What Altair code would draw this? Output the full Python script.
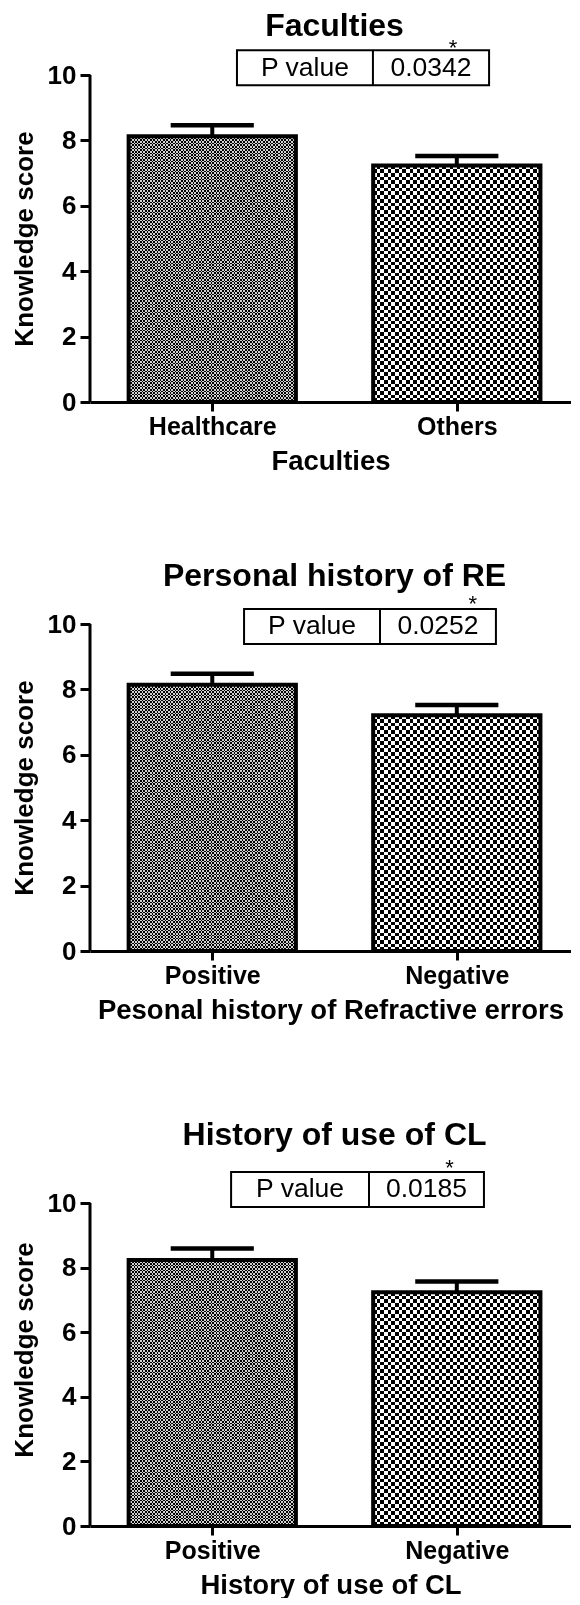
import altair as alt
import pandas as pd

# ---------------- data ----------------
panel_titles = ["Faculties", "Personal history of RE", "History of use of CL"]
axis_titles = ["Faculties", "Pesonal history of Refractive  errors", "History of use of CL"]
categories = [["Healthcare", "Others"], ["Positive", "Negative"], ["Positive", "Negative"]]
means = [[8.13, 7.23], [8.14, 7.21], [8.24, 7.24]]
sems = [[0.33, 0.29], [0.34, 0.31], [0.35, 0.33]]
p_values = ["0.0342", "0.0252", "0.0185"]
stars = ["*", "*", "*"]
y_title = "Knowledge score"
p_label = "P value"
y_ticks = [0, 2, 4, 6, 8, 10]

# ---------------- layout / style ----------------
PX_PER_X = 244.5          # pixels per category slot
X_MAX = 1.967             # right end of the x axis (in category slots)
PLOT_W = round(PX_PER_X * X_MAX)
heights = [327, 327, 353]
y_tops = [10, 10, 10.93]
table_x = [(0.601, 1.157, 1.632), (0.63, 1.186, 1.66), (0.577, 1.141, 1.611)]
table_y = [(9.69, 10.76), (9.39, 10.46), (9.88, 10.96)]
star_xy = [(1.485, 10.98), (1.565, 10.76), (1.47, 11.24)]
title_y = [11.5, 11.47, 12.1]
BAR_HALF = 0.342
CAP_HALF = 0.17
periods = [3.3, 7.4]
shade = [0.18, 0.0]
FONT = "Liberation Sans"


def stripes(c1, c2, n, horizontal):
    stops = []
    for k in range(n):
        a, b, c = k / n, (k + 0.5) / n, (k + 1) / n
        stops += [
            alt.GradientStop(offset=a, color=c1),
            alt.GradientStop(offset=b, color=c1),
            alt.GradientStop(offset=b, color=c2),
            alt.GradientStop(offset=c, color=c2),
        ]
    if horizontal:
        return alt.LinearGradient(gradient="linear", stops=stops, x1=0, y1=0, x2=0, y2=1)
    return alt.LinearGradient(gradient="linear", stops=stops, x1=0, y1=0, x2=1, y2=0)


def label_expr(cats):
    expr = "''"
    for k in reversed(range(len(cats))):
        expr = f"datum.value < {k + 1} ? '{cats[k]}' : ({expr})"
    return expr


def panel(i):
    cats = categories[i]
    n = len(cats)
    df = pd.DataFrame({"cat": cats, "mean": means[i], "sem": sems[i],
                       "pos": [k + 0.5 for k in range(n)]})
    H = heights[i]
    ymax = y_tops[i]
    ppu = H / ymax
    xs = alt.Scale(domain=[0, X_MAX], nice=False, zero=False)
    ys = alt.Scale(domain=[0, ymax], nice=False, zero=True)

    one = alt.Chart(pd.DataFrame({"title": [panel_titles[i]], "lab": [p_label],
                                  "p": [p_values[i]], "star": [stars[i]]}))

    # y-axis line (a rule from 0 to 10); this layer also carries both axes
    y_line = one.mark_rule(strokeWidth=3, color="black").encode(
        x=alt.X(datum=0, scale=xs, axis=alt.Axis(
            values=[k + 0.5 for k in range(n)], labelExpr=label_expr(cats),
            title=axis_titles[i], grid=False, domain=True, domainWidth=3,
            domainColor="black", tickColor="black", tickSize=9, tickWidth=3,
            labelFontSize=25, labelFontWeight="bold", labelColor="black",
            labelPadding=3, titleFontSize=27.5, titleFontWeight="bold",
            titleColor="black", titlePadding=8, labelFont=FONT, titleFont=FONT)),
        y=alt.Y(datum=0, scale=ys, axis=alt.Axis(
            values=y_ticks, format="d", title=y_title, grid=False, domain=False,
            tickColor="black", tickSize=10, tickWidth=3, labelFontSize=26,
            labelFontWeight="bold", labelColor="black", labelPadding=4,
            titleFontSize=26, titleFontWeight="bold", titleColor="black",
            titlePadding=10, labelFont=FONT, titleFont=FONT)),
        y2=alt.datum(y_ticks[-1]),
    )

    base = alt.Chart(df).transform_calculate(
        lo=f"datum.pos - {BAR_HALF}",
        hi=f"datum.pos + {BAR_HALF}",
        clo=f"datum.pos - {CAP_HALF}",
        chi=f"datum.pos + {CAP_HALF}",
        upper="datum.mean + datum.sem",
    )

    layers = [y_line]
    bar_px = 2 * BAR_HALF * PX_PER_X
    for k, c in enumerate(cats):
        per = periods[k % len(periods)]
        nx = max(1, round(bar_px / per))
        ny = max(1, round(means[i][k] * ppu / per))
        sub = base.transform_filter(alt.datum.cat == c)
        enc = dict(x="lo:Q", x2="hi:Q", y="mean:Q", y2=alt.datum(0))
        layers.append(sub.mark_rect(fill=stripes("black", "white", nx, False)).encode(**enc))
        layers.append(sub.mark_rect(fill=stripes("white", "rgba(255,255,255,0)", ny, True),
                                    blend="difference").encode(**enc))
        s = shade[k % len(shade)]
        if s > 0:
            layers.append(sub.mark_rect(fill="black", opacity=s).encode(**enc))

    outline = base.mark_rect(fill="transparent", stroke="black", strokeWidth=4,
                             strokeJoin="miter").encode(
        x="lo:Q", x2="hi:Q", y="mean:Q", y2=alt.datum(0))

    err_v = base.mark_rule(strokeWidth=4, color="black").encode(
        x="pos:Q", y="mean:Q", y2="upper:Q")
    err_cap = base.mark_rule(strokeWidth=4.5, color="black").encode(
        x="clo:Q", x2="chi:Q", y="upper:Q")

    tx0, txd, tx1 = table_x[i]
    ty0, ty1 = table_y[i]
    table = one.mark_rect(fill="white", stroke="black", strokeWidth=2).encode(
        x=alt.datum(tx0), x2=alt.datum(tx1), y=alt.datum(ty0), y2=alt.datum(ty1))
    divider = one.mark_rule(strokeWidth=2, color="black").encode(
        x=alt.datum(txd), y=alt.datum(ty0), y2=alt.datum(ty1))
    tmid = (ty0 + ty1) / 2
    t_lab = one.mark_text(fontSize=26.5, font=FONT, color="black", baseline="middle").encode(
        text="lab:N", x=alt.datum((tx0 + txd) / 2), y=alt.datum(tmid))
    t_p = one.mark_text(fontSize=26.5, font=FONT, color="black", baseline="middle").encode(
        text="p:N", x=alt.datum((txd + tx1) / 2), y=alt.datum(tmid))
    sx, sy = star_xy[i]
    t_star = one.mark_text(fontSize=22, font=FONT, color="black", baseline="alphabetic",
                           dy=12).encode(text="star:N", x=alt.datum(sx), y=alt.datum(sy))
    t_title = one.mark_text(fontSize=32, font=FONT, fontWeight="bold", color="black",
                            baseline="middle").encode(
        text="title:N", x=alt.datum(n / 2), y=alt.datum(title_y[i]))

    return alt.layer(*layers, outline, err_v, err_cap, table, divider,
                     t_lab, t_p, t_star, t_title).properties(width=PLOT_W, height=H)


chart = alt.vconcat(panel(0), panel(1), panel(2), spacing=222, bounds="flush").properties(
    padding={"left": 3, "top": 1, "right": 0, "bottom": -1},
    background="white",
).configure(font=FONT, view=alt.ViewConfig(strokeWidth=0))

chart.save("out.html", embed_options={"renderer": "svg", "actions": False})
